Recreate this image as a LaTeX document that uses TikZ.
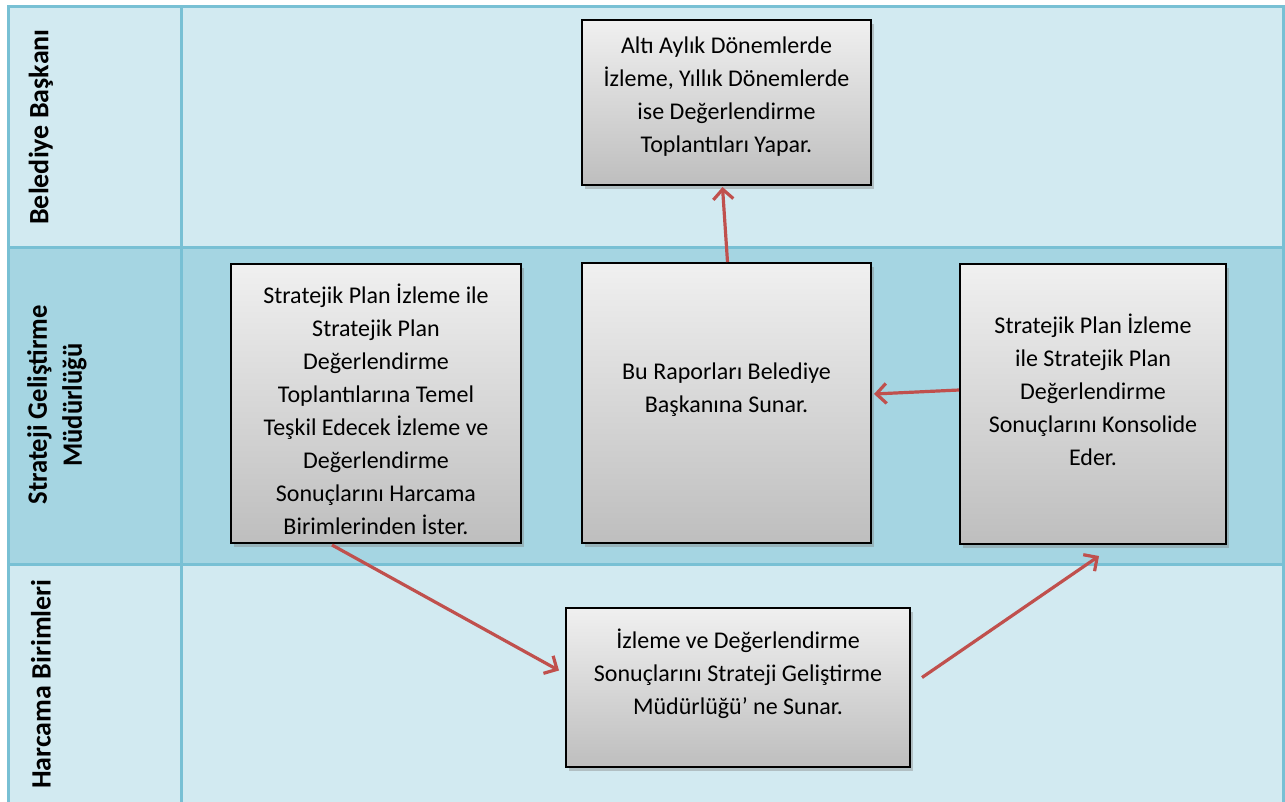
\documentclass[tikz,border=0pt]{standalone}
\usepackage{fontspec}
\setmainfont{Carlito}
\usetikzlibrary{calc,shadows,arrows.meta}
\definecolor{lanelight}{HTML}{D2EAF1}
\definecolor{lanedark}{HTML}{A5D5E2}
\definecolor{laneline}{HTML}{78C0D4}
\definecolor{arrowred}{HTML}{C0504D}
\definecolor{boxtop}{HTML}{F0F0F0}
\definecolor{boxbot}{HTML}{BEBEBE}
\tikzset{
  procbox/.style={draw=black, line width=2pt, top color=boxtop, bottom color=boxbot,
    drop shadow={opacity=0.4, shadow xshift=3pt, shadow yshift=-4pt}, inner sep=0pt},
  boxtext/.style={align=center, font=\fontsize{24}{33}\selectfont, inner sep=0pt},
  lanelabel/.style={rotate=90, align=center, font=\bfseries\fontsize{28}{35}\selectfont},
  flow/.style={draw=arrowred, line width=3.2pt, -{Straight Barb[length=10pt,width=20pt,line width=3.2pt]}},
  lanerule/.style={draw=laneline, line width=3pt}
}
\begin{document}
\begin{tikzpicture}[x=1pt,y=-1pt]
\useasboundingbox (0,0) rectangle (1285,801);
% lanes
\fill[lanelight] (8,6) rectangle (1283,247);
\fill[lanedark] (8,247) rectangle (1283,564);
\fill[lanelight] (8,564) rectangle (1283,812);
\draw[lanerule] (8,812) -- (8,6) -- (1283,6) -- (1283,812);
\draw[lanerule] (8,247) -- (1283,247);
\draw[lanerule] (8,564) -- (1283,564);
\draw[lanerule] (181,6) -- (181,812);
% lane labels
\node[lanelabel] (l1) at (41,127) {Belediye Başkanı};
\node[lanelabel] (l2) at (57,405) {\scalebox{0.95}[1]{Strateji Geliştirme}\\\scalebox{0.95}[1]{Müdürlüğü}};
\node[lanelabel] (l3) at (41,684) {Harcama Birimleri};
% boxes
\node[procbox, minimum width=289pt, minimum height=165pt] (top) at (726.5,102.5) {};
\node[procbox, minimum width=290pt, minimum height=279pt] (left) at (376,403.5) {};
\node[procbox, minimum width=289pt, minimum height=280pt] (mid) at (726.5,403) {};
\node[procbox, minimum width=266pt, minimum height=280pt] (right) at (1093,404) {};
\node[procbox, minimum width=344pt, minimum height=159pt] (bot) at (738,687.5) {};
% texts
\node[boxtext] (topt) at (726.5,97) {Altı Aylık Dönemlerde\\İzleme, Yıllık Dönemlerde\\ise Değerlendirme\\Toplantıları Yapar.};
\node[boxtext] (leftt) at (376,409) {Stratejik Plan İzleme ile\\Stratejik Plan\\Değerlendirme\\Toplantılarına Temel\\Teşkil Edecek İzleme ve\\Değerlendirme\\Sonuçlarını Harcama\\Birimlerinden İster.};
\node[boxtext] (midt) at (726.5,390) {Bu Raporları Belediye\\Başkanına Sunar.};
\node[boxtext] (rightt) at (1093,390) {Stratejik Plan İzleme\\ile Stratejik Plan\\Değerlendirme\\Sonuçlarını Konsolide\\Eder.};
\node[boxtext] (bott) at (738,674) {İzleme ve Değerlendirme\\Sonuçlarını Strateji Geliştirme\\Müdürlüğü’ ne Sunar.};
% connectors
\draw[flow] ($(mid.north)+(1,0)$) -- ($(top.south)+(-4,1)$);
\draw[flow] ($(right.west)+(0,-14)$) -- ($(mid.east)+(2,-9)$);
\draw[flow] ($(left.south)+(-44,1)$) -- ($(bot.west)+(-6,-17)$);
\draw[flow] ($(bot.east)+(11,-10)$) -- ($(right.south)+(6,11)$);
\end{tikzpicture}
\end{document}
